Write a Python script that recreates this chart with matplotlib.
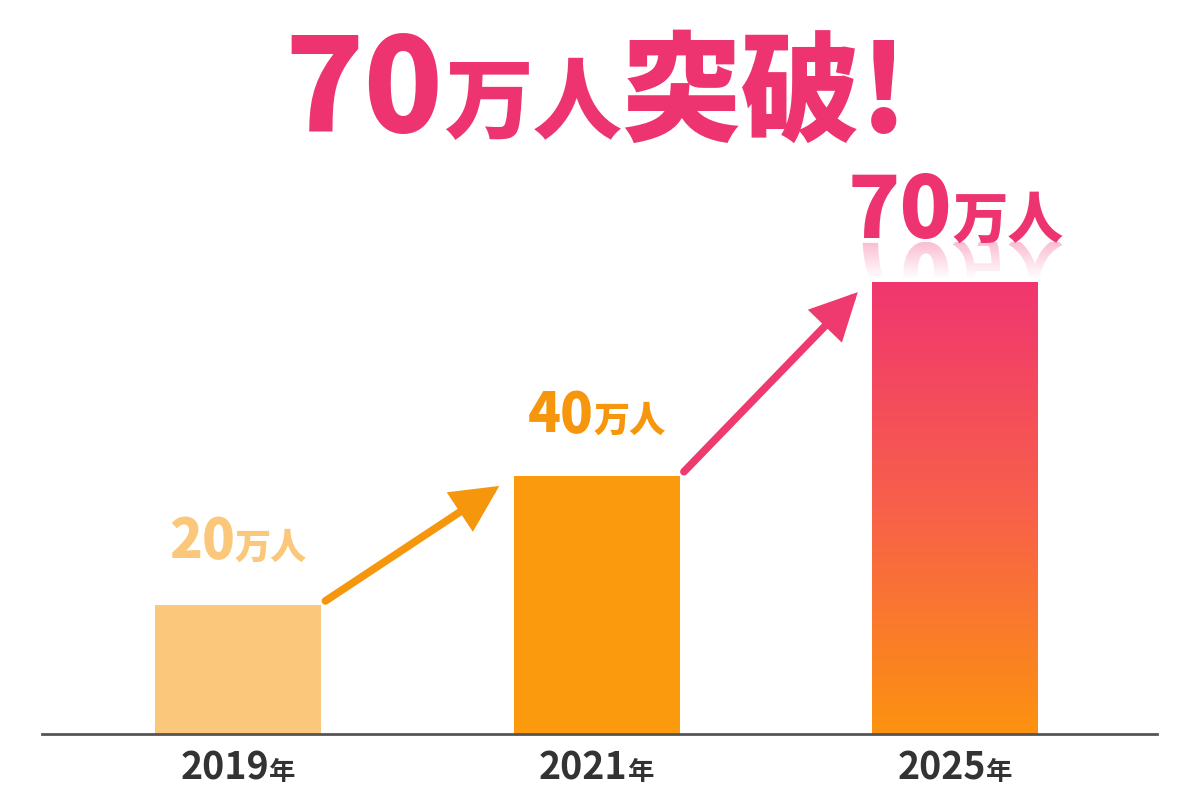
import matplotlib
matplotlib.use('Agg')
import matplotlib.pyplot as plt
import numpy as np
from matplotlib.transforms import Affine2D, IdentityTransform
from matplotlib.textpath import TextPath
from matplotlib.font_manager import FontProperties
from matplotlib.path import Path
from matplotlib.patches import PathPatch
from matplotlib.colors import LinearSegmentedColormap, to_rgb

# ---------------- data ----------------
years = ['2019', '2021', '2025']
year_suffix = '年'
values = [20, 40, 70]
value_labels = ['20', '40', '70']
unit = '万人'
title_num = '70'
title_unit = '万人'
title_tail = '突破!'

# ---------------- style ----------------
FAM = ['Noto Sans CJK JP', 'DejaVu Sans']
plt.rcParams['font.family'] = FAM
bar_colors = ['#FBC77A', '#FA9A0C', None]
label_colors = ['#FBC77A', '#F5960C', '#EE3470']
arrow_colors = ['#F5960C', '#EE3A6E']
grad_top, grad_mid, grad_bot = '#F03670', '#F8604A', '#FC9210'
pink = '#EE3470'

fig = plt.figure(figsize=(12, 8), dpi=100)
ax = fig.add_axes([42 / 1200, 66 / 800, (1157 - 42) / 1200, (734 - 150) / 800])
x = np.arange(len(values))
w = 0.463
XLIM = (-0.547, 2.563)
YLIM = (0, (734 - 150) / 6.46)
ax.set_xlim(*XLIM)
ax.set_ylim(*YLIM)

for s in ['top', 'right', 'left']:
    ax.spines[s].set_visible(False)
ax.spines['bottom'].set_color('#555555')
ax.spines['bottom'].set_linewidth(2)
ax.set_xticks([])
ax.set_yticks([])

bars = ax.bar(x, values, width=w, color=[c if c else 'none' for c in bar_colors], zorder=2)

# gradient bar for the last one
cmap = LinearSegmentedColormap.from_list('g', [grad_bot, grad_mid, grad_top])
grad = np.linspace(0, 1, 256).reshape(-1, 1)
b = bars[2]
im = ax.imshow(grad, cmap=cmap, origin='lower', aspect='auto',
               extent=(b.get_x(), b.get_x() + b.get_width(), 0, b.get_height()), zorder=2)
im.set_clip_path(b)
ax.set_xlim(*XLIM)
ax.set_ylim(*YLIM)

# arrows
for i in range(2):
    start = (x[i] + w / 2 + 0.012, values[i] + 0.6)
    end = (x[i + 1] - w / 2 - 0.04, values[i + 1] - 1.6)
    ax.annotate('', xy=end, xytext=start,
                arrowprops=dict(arrowstyle='-|>,head_length=0.9,head_width=0.45', lw=5.5,
                                color=arrow_colors[i], shrinkA=0, shrinkB=0,
                                mutation_scale=28, capstyle='round', joinstyle='miter'),
                zorder=3)

fig.canvas.draw()
renderer = fig.canvas.get_renderer()


def mixed_text(anchor_xy, transform, parts, weight='bold'):
    """parts: list of (string, size, color). Centered at anchor, baseline aligned."""
    texts = []
    widths = []
    for s, size, color in parts:
        t = fig.text(0, 0, s, fontsize=size, color=color, fontweight=weight,
                     ha='left', va='baseline', family=FAM)
        widths.append(t.get_window_extent(renderer).width)
        texts.append(t)
    total = sum(widths)
    ax_px, ay_px = transform.transform(anchor_xy)
    cur = -total / 2
    offsets = []
    for t, wd in zip(texts, widths):
        t.set_transform(IdentityTransform())
        t.set_position((ax_px + cur, ay_px))
        offsets.append(ax_px + cur)
        cur += wd
    return texts, offsets, ay_px


# title
mixed_text((0.497, 1 - 132 / 800), fig.transFigure,
           [(title_num, 94, pink), (title_unit, 64, pink), (title_tail, 86, pink)], weight='black')

# value labels
label_sizes = [(39, 26), (39, 26), (62, 40)]
label_offsets = [7.2, 6.8, 6.8]
for i in range(3):
    texts, offs, base = mixed_text((x[i], values[i] + label_offsets[i]), ax.transData,
                                   [(value_labels[i], label_sizes[i][0], label_colors[i]),
                                    (unit, label_sizes[i][1], label_colors[i])], weight='black')
    if i == 2:
        # faded mirror reflection under the label
        paths = []
        for s, size, ox in zip([value_labels[i], unit], label_sizes[i], offs):
            fp = FontProperties(family=FAM, weight='black', size=size)
            tp = TextPath((0, 0), s, prop=fp)
            tr = Affine2D().scale(100 / 72).scale(1, -1).translate(ox, base - 5)
            paths.append(tr.transform_path(tp))
        comp = Path.make_compound_path(*paths)
        patch = PathPatch(comp, transform=IdentityTransform(), facecolor='none',
                          edgecolor='none', zorder=1)
        ax.add_patch(patch)
        ext = comp.get_extents()
        top = base - 5
        h = 36
        inv = ax.transData.inverted()
        (dx0, dy1) = inv.transform((ext.x0, top))
        (dx1, dy0) = inv.transform((ext.x1, top - h))
        r, g, bb = to_rgb(pink)
        n = 64
        rgba = np.zeros((n, 2, 4))
        rgba[..., 0], rgba[..., 1], rgba[..., 2] = r, g, bb
        rgba[..., 3] = np.linspace(0.32, 0.0, n)[:, None]
        rim = ax.imshow(rgba, origin='upper', aspect='auto', interpolation='bilinear',
                        extent=(dx0, dx1, dy0, dy1), zorder=1)
        rim.set_clip_path(patch)
        ax.set_xlim(*XLIM)
        ax.set_ylim(*YLIM)

# x tick labels
for i in range(3):
    t, offs, base = mixed_text((x[i], 0), ax.transData,
                               [(years[i], 27, '#333333'), (year_suffix, 19, '#333333')],
                               weight='bold')
    for tt in t:
        tt.set_y(tt.get_position()[1] - 46)

fig.savefig('out.png', dpi=100, facecolor='white')
